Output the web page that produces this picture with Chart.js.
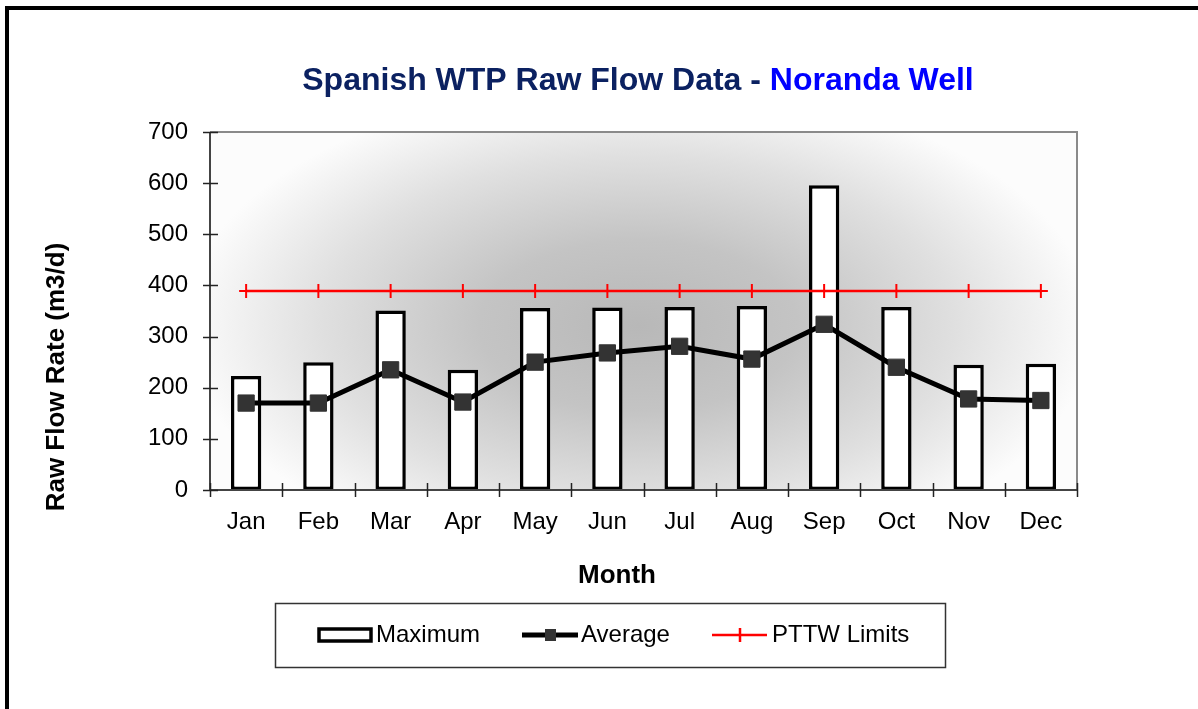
<!DOCTYPE html>
<html>
<head>
<meta charset="utf-8">
<script src="https://cdn.jsdelivr.net/npm/chart.js@4.4.1/dist/chart.umd.min.js"></script>
<style>
  body { margin: 0; background: #fff; }
  #wrap { width: 1198px; height: 709px; }
</style>
</head>
<body>
<div id="wrap"><canvas id="flowChart" width="1198" height="709"></canvas></div>
<script>
const months = ['Jan', 'Feb', 'Mar', 'Apr', 'May', 'Jun', 'Jul', 'Aug', 'Sep', 'Oct', 'Nov', 'Dec'];
const maximumFlow = [223, 250, 351, 235, 356, 357, 358, 360, 596, 358, 245, 247];
const averageFlow = [170, 170, 235, 172, 250, 268, 281, 256, 324, 240, 178, 175];
const pttwLimits = [389, 389, 389, 389, 389, 389, 389, 389, 389, 389, 389, 389];
const yTicks = [0, 100, 200, 300, 400, 500, 600, 700];

const FONT = "'Liberation Sans', Arial, sans-serif";
Chart.defaults.font.family = FONT;
Chart.defaults.color = '#000';

// plot background: grey in the middle fading to white at the edges
const backdrop = {
  id: 'backdrop',
  beforeDraw(chart) {
    const { ctx, chartArea: a } = chart;
    ctx.save();
    ctx.fillStyle = '#fff';
    ctx.fillRect(0, 0, chart.width, chart.height);
    ctx.beginPath();
    ctx.rect(a.left, a.top, a.right - a.left, a.bottom - a.top);
    ctx.clip();
    const cx = (a.left + a.right) / 2 - 5, cy = (a.top + a.bottom) / 2 + 15;
    ctx.translate(cx, cy);
    ctx.scale((a.right - a.left) / 2, (a.bottom - a.top) / 2 * 1.3);
    const g = ctx.createRadialGradient(0, 0, 0, 0, 0, 1.05);
    g.addColorStop(0, '#b8b8b8');
    g.addColorStop(0.35, '#c4c4c4');
    g.addColorStop(0.7, '#e0e0e0');
    g.addColorStop(1, '#fcfcfc');
    ctx.fillStyle = g;
    ctx.fillRect(-1.5, -1.5, 3, 3);
    ctx.restore();
  }
};

// frame, axes, ticks, titles and legend
const decorations = {
  id: 'decorations',
  afterDraw(chart) {
    const { ctx, chartArea: a } = chart;
    const x = chart.scales.x, y = chart.scales.y;
    ctx.save();

    // outer frame (only top and left visible)
    ctx.fillStyle = '#000';
    ctx.fillRect(5, 6, 1193, 4);
    ctx.fillRect(5, 6, 4, 703);

    // plot border
    ctx.lineWidth = 2;
    ctx.strokeStyle = '#8a8a8a';
    ctx.beginPath();
    ctx.moveTo(a.left, a.top);
    ctx.lineTo(a.right, a.top);
    ctx.lineTo(a.right, a.bottom);
    ctx.stroke();
    ctx.strokeStyle = '#444';
    ctx.beginPath();
    ctx.moveTo(a.left, a.top);
    ctx.lineTo(a.left, a.bottom);
    ctx.lineTo(a.right, a.bottom);
    ctx.stroke();

    // tick marks crossing the axes
    ctx.lineWidth = 1.5;
    ctx.strokeStyle = '#222';
    yTicks.forEach(v => {
      const py = Math.round(y.getPixelForValue(v)) + 0.5;
      ctx.beginPath();
      ctx.moveTo(a.left - 7, py);
      ctx.lineTo(a.left + 8, py);
      ctx.stroke();
    });
    const half = (x.getPixelForValue(1) - x.getPixelForValue(0)) / 2;
    for (let i = 0; i <= months.length; i++) {
      const px = Math.round(x.getPixelForValue(0) - half + i * 2 * half) + 0.5;
      ctx.beginPath();
      ctx.moveTo(px, a.bottom - 7);
      ctx.lineTo(px, a.bottom + 7);
      ctx.stroke();
    }

    // chart title in two colours
    ctx.font = 'bold 32px ' + FONT;
    ctx.textBaseline = 'alphabetic';
    ctx.textAlign = 'left';
    const t1 = 'Spanish WTP Raw Flow Data - ', t2 = 'Noranda Well';
    const w1 = ctx.measureText(t1).width, w2 = ctx.measureText(t2).width;
    const tx = 638 - (w1 + w2) / 2;
    ctx.fillStyle = '#0b2161';
    ctx.fillText(t1, tx, 90);
    ctx.fillStyle = '#0000ff';
    ctx.fillText(t2, tx + w1, 90);

    // axis titles
    ctx.fillStyle = '#000';
    ctx.font = 'bold 26px ' + FONT;
    ctx.textAlign = 'center';
    ctx.fillText('Month', 617, 583);
    ctx.save();
    ctx.translate(64, 377);
    ctx.rotate(-Math.PI / 2);
    ctx.fillText('Raw Flow Rate (m3/d)', 0, 0);
    ctx.restore();

    // legend
    ctx.lineWidth = 1.5;
    ctx.strokeStyle = '#333';
    ctx.strokeRect(275.5, 603.5, 670, 64);
    const ly = 635;
    ctx.font = '24px ' + FONT;
    ctx.textAlign = 'left';
    ctx.textBaseline = 'middle';
    ctx.fillStyle = '#fff';
    ctx.fillRect(319, 629, 52, 12);
    ctx.lineWidth = 3.5;
    ctx.strokeStyle = '#000';
    ctx.strokeRect(319, 629, 52, 12);
    ctx.fillStyle = '#000';
    ctx.fillText('Maximum', 376, ly);

    ctx.lineWidth = 5;
    ctx.beginPath();
    ctx.moveTo(522, ly);
    ctx.lineTo(578, ly);
    ctx.stroke();
    ctx.fillStyle = '#333';
    ctx.fillRect(545, ly - 6, 11, 12);
    ctx.fillStyle = '#000';
    ctx.fillText('Average', 581, ly);

    ctx.strokeStyle = '#ff0000';
    ctx.lineWidth = 2.5;
    ctx.beginPath();
    ctx.moveTo(712, ly);
    ctx.lineTo(767, ly);
    ctx.moveTo(740, ly - 7);
    ctx.lineTo(740, ly + 7);
    ctx.stroke();
    ctx.fillText('PTTW Limits', 772, ly);

    ctx.restore();
  }
};

const ctx = document.getElementById('flowChart').getContext('2d');
const flowChart = new Chart(ctx, {
  type: 'bar',
  data: {
    labels: months,
    datasets: [
      {
        type: 'line',
        label: 'PTTW Limits',
        data: pttwLimits,
        borderColor: '#ff0000',
        borderWidth: 2.5,
        pointStyle: 'cross',
        pointRadius: 7,
        pointBorderWidth: 2,
        pointBorderColor: '#ff0000',
        fill: false,
        order: 1
      },
      {
        type: 'line',
        label: 'Average',
        data: averageFlow,
        borderColor: '#000',
        borderWidth: 5,
        pointStyle: 'rect',
        pointRadius: 11.5,
        pointBackgroundColor: '#333',
        pointBorderColor: '#333',
        pointBorderWidth: 1,
        fill: false,
        order: 2
      },
      {
        label: 'Maximum',
        data: maximumFlow,
        backgroundColor: '#fff',
        borderColor: '#000',
        borderWidth: 3.5,
        borderSkipped: false,
        categoryPercentage: 1,
        barPercentage: 0.42,
        order: 3
      }
    ]
  },
  options: {
    responsive: false,
    animation: false,
    layout: { padding: { top: 132, right: 121, bottom: 0, left: 0 } },
    plugins: {
      legend: { display: false },
      title: { display: false },
      tooltip: { enabled: false }
    },
    scales: {
      x: {
        grid: { display: false, drawTicks: false },
        border: { display: false },
        ticks: { font: { size: 24 }, padding: 18, color: '#000' },
        afterFit(scale) { scale.height = 709 - 490; }
      },
      y: {
        min: 0,
        max: 700,
        grid: { display: false, drawTicks: false },
        border: { display: false },
        ticks: { stepSize: 100, font: { size: 24 }, padding: 22, color: '#000' },
        afterFit(scale) { scale.width = 210; }
      }
    }
  },
  plugins: [backdrop, decorations]
});
</script>
</body>
</html>
